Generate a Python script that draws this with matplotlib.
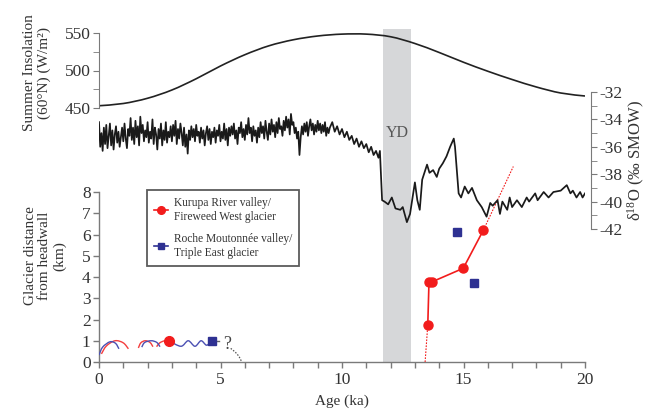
import numpy as np
import matplotlib
matplotlib.use("Agg")
import matplotlib.pyplot as plt
from matplotlib.path import Path
from matplotlib.patches import PathPatch
from matplotlib.lines import Line2D
from matplotlib.ticker import MultipleLocator, FormatStrFormatter, FixedLocator

plt.rcParams['font.family'] = ['Liberation Serif', 'DejaVu Serif']
plt.rcParams['axes.unicode_minus'] = False
plt.rcParams['mathtext.fontset'] = 'custom'
plt.rcParams['mathtext.rm'] = 'Liberation Serif'
plt.rcParams['mathtext.it'] = 'Liberation Serif:italic'

# ---------------- data ----------------
# Summer insolation at 60N (W/m2), every 1 ka
insol_age = [0, 1, 2, 3, 4, 5, 6, 7, 8, 9, 10, 11, 12, 13, 14, 15, 16, 17, 18, 19, 20]
insol_val = [453, 456, 463, 474, 489, 506, 521, 533, 541, 546, 548.5, 548.5, 545, 536,
             524, 511, 499, 488, 478, 470, 466]

# d18O (permil SMOW) - Holocene part sampled every 0.05 ka from 0 ka
holo_step = 0.05
holo_d18o = [
    -34.2, -36.0, -35.0, -36.3, -34.6, -35.8, -34.4, -36.1, -35.2, -34.3,
    -35.9, -34.8, -36.2, -35.1, -34.5, -35.7, -34.9, -36.0, -35.3, -34.6,
    -35.6, -34.3, -35.4, -36.1, -34.7, -35.2, -33.9, -35.5, -34.6, -35.8,
    -34.1, -35.3, -34.5, -35.9, -33.8, -35.0, -34.4, -35.6, -34.8, -35.3,
    -34.2, -35.7, -34.9, -35.4, -34.0, -35.8, -34.6, -35.1, -36.2, -34.7,
    -35.4, -34.3, -35.9, -34.8, -35.5, -34.2, -35.7, -34.9, -35.3, -34.5,
    -35.6, -34.4, -35.2, -34.1, -35.8, -34.7, -35.4, -34.3, -35.0, -35.9,
    -34.6, -36.0, -35.1, -36.5, -34.8, -35.5, -34.5, -35.3, -34.7, -35.6,
    -34.4, -35.2, -34.9, -35.7, -34.6, -35.4, -34.8, -35.9, -35.0, -34.5,
    -35.5, -34.7, -35.8, -34.9, -35.3, -34.6, -35.7, -34.8, -35.2, -34.4,
    -35.6, -34.9, -35.4, -34.3, -35.5, -34.7, -35.9, -34.6, -35.2, -34.5,
    -35.1, -34.3, -35.4, -34.8, -35.8, -34.6, -35.0, -34.2, -35.3, -34.7,
    -35.5, -34.4, -35.1, -33.9, -35.0, -34.6, -35.6, -34.5, -35.2, -34.8,
    -35.7, -34.6, -35.3, -34.2, -35.0, -34.5, -35.4, -34.1, -34.9, -35.5,
    -34.3, -35.1, -34.0, -34.9, -34.4, -35.3, -34.2, -35.0, -33.9, -34.7,
    -34.5, -35.2, -34.1, -34.8, -33.8, -34.6, -34.0, -35.1, -33.6, -34.4,
    -34.2, -35.0, -34.6, -35.4, -34.9, -36.6, -35.3, -34.5, -35.1, -34.3,
    -34.9, -34.2, -35.2, -34.5, -34.0, -34.8, -34.3, -35.1, -34.4, -34.9,
    -34.1, -34.8, -34.3, -35.0, -34.4, -34.9, -34.2, -35.2, -34.6, -35.0,
]
# d18O - late glacial part
lg_age = [9.5, 9.6, 9.7, 9.8, 9.9, 10.0, 10.1, 10.2, 10.3, 10.4, 10.5, 10.6, 10.7, 10.8,
          10.9, 11.0, 11.1, 11.2, 11.3, 11.4, 11.5, 11.56, 11.65, 11.75, 11.9, 12.05,
          12.2, 12.4, 12.5, 12.67, 12.8, 13.0, 13.1, 13.2, 13.3, 13.5, 13.6, 13.75, 13.9,
          14.0, 14.15, 14.3, 14.45, 14.6, 14.65, 14.8, 14.9, 15.05, 15.2, 15.35, 15.55,
          15.75, 15.95, 16.1, 16.2, 16.4, 16.5, 16.6, 16.8, 16.9, 17.0, 17.2, 17.4, 17.6,
          17.7, 17.95, 18.05, 18.3, 18.5, 18.7, 19.0, 19.25, 19.4, 19.5, 19.65, 19.8,
          19.9, 20.0]
lg_d18o = [-34.6, -34.2, -34.9, -34.5, -35.1, -34.7, -35.3, -34.9, -35.5, -35.2, -35.8,
           -35.4, -36.0, -35.6, -36.1, -35.8, -36.4, -36.0, -36.6, -36.3, -36.8, -36.3,
           -39.9, -40.0, -40.2, -39.7, -40.5, -40.6, -40.4, -41.5, -40.9, -38.6, -39.9,
           -40.6, -38.4, -37.3, -37.9, -37.7, -38.2, -37.6, -37.2, -36.7, -36.0, -35.4,
           -36.0, -39.4, -39.7, -38.9, -39.4, -39.0, -39.9, -40.4, -41.1, -40.1, -40.3,
           -39.9, -40.9, -40.0, -40.6, -39.7, -40.4, -39.9, -40.4, -39.7, -40.0, -39.4,
           -39.9, -39.3, -39.7, -39.3, -39.2, -38.8, -39.4, -39.2, -39.7, -39.3, -39.7,
           -39.4]

# Younger Dryas interval (ka)
yd_start, yd_end = 11.7, 12.85

# Kurupa River valley / Fireweed West glacier
kur_age = [13.53, 13.58, 13.72, 14.99, 15.82]
kur_km = [1.74, 3.78, 3.78, 4.41, 6.21]
kur_lo_age = [13.42, 13.53]
kur_lo_km = [0.0, 1.74]
kur_hi_age = [15.82, 17.05]
kur_hi_km = [6.21, 9.2]
kur_late_age = [2.88]
kur_late_km = [1.0]

# Roche Moutonnee valley / Triple East glacier
roc_age = [14.72, 15.45]
roc_km = [6.13, 3.70]
roc_late_age = [4.64]
roc_late_km = [1.0]

# Schematic late Holocene fluctuations
red_arcs = [
    ([0.10, 0.30, 0.66, 1.00, 1.21], [0.38, 0.75, 1.00, 0.90, 0.62]),
    ([1.62, 1.72, 1.90, 2.10, 2.22], [0.66, 0.90, 1.00, 0.92, 0.72]),
    ([2.37, 2.50, 2.70, 2.88], [0.72, 0.90, 1.00, 1.00]),
]
blue_arcs = [
    ([0.00, 0.15, 0.45, 0.68, 0.82], [0.33, 0.70, 0.95, 0.88, 0.62]),
    ([1.76, 1.88, 2.15, 2.38, 2.51], [0.70, 0.92, 1.00, 0.92, 0.72]),
    ([2.88, 3.37, 3.67, 3.95, 4.20, 4.43, 4.64], [1.00, 0.74, 1.00, 0.74, 1.00, 0.79, 1.00]),
]
gray_link_age = [4.64, 4.95]
gray_link_km = [1.0, 1.0]
gray_fall_age = [5.42, 5.62, 5.78, 5.87]
gray_fall_km = [0.64, 0.45, 0.22, 0.0]

RED = '#f21c1c'
BLUE = '#2e3192'
BLUE_L = '#4b50b3'
SPINE = '#7a7a7a'
TXT = '#333333'


def smooth_curve(ax, xs, ys, **kw):
    pts = np.column_stack([xs, ys]).astype(float)
    n = len(pts)
    verts = [pts[0]]
    codes = [Path.MOVETO]
    for i in range(n - 1):
        p0 = pts[i - 1] if i > 0 else pts[i]
        p1 = pts[i]
        p2 = pts[i + 1]
        p3 = pts[i + 2] if i + 2 < n else pts[i + 1]
        verts += [p1 + (p2 - p0) / 6, p2 - (p3 - p1) / 6, p2]
        codes += [Path.CURVE4] * 3
    ax.add_patch(PathPatch(Path(verts, codes), fill=False, **kw))


W, H = 654, 412
fig = plt.figure(figsize=(W / 100, H / 100), dpi=100)

x0, x1 = 99, 585
ybot, ytop = 362, 29
pos = [x0 / W, (H - ybot) / H, (x1 - x0) / W, (ybot - ytop) / H]
hpx = ybot - ytop

# -------- glacier axes --------
ax = fig.add_axes(pos)
km_px = 21.25
ax.set_xlim(0, 20)
ax.set_ylim(0, hpx / km_px)
for s in ['top', 'right']:
    ax.spines[s].set_visible(False)
for s in ['left', 'bottom']:
    ax.spines[s].set_color(SPINE)
    ax.spines[s].set_linewidth(1.0)
ax.spines['left'].set_bounds(0, 8)
ax.spines['bottom'].set_bounds(0, 20)
ax.set_yticks(range(0, 9))
ax.xaxis.set_major_locator(MultipleLocator(5))
ax.xaxis.set_minor_locator(MultipleLocator(1))
ax.tick_params(axis='both', which='both', direction='out', color=SPINE, labelcolor=TXT,
               labelsize=12.5, length=4, width=1.0)
ax.tick_params(axis='x', pad=3)
ax.tick_params(axis='y', pad=2)
ax.patch.set_visible(False)

ax.axvspan(yd_start, yd_end, color='#d6d7d9', lw=0, zorder=0)
ax.text((yd_start + yd_end) / 2, (ybot - 133) / km_px, 'YD', ha='center', va='center',
        fontsize=11.5, color='#555555')

for xs, ys in red_arcs:
    smooth_curve(ax, xs, ys, edgecolor=RED, lw=1.0, alpha=0.85, zorder=3)
for xs, ys in blue_arcs:
    smooth_curve(ax, xs, ys, edgecolor=BLUE_L, lw=1.0, zorder=3)
ax.plot(gray_link_age, gray_link_km, color='#666666', lw=1.0, zorder=3)
smooth_curve(ax, gray_fall_age, gray_fall_km, edgecolor='#555555', lw=0.9,
             linestyle=(0, (1.2, 1.2)), zorder=3)
ax.text(5.27, 0.82, '?', ha='center', va='center', fontsize=13, color='#444444', zorder=4)

ax.plot(kur_lo_age, kur_lo_km, color=RED, lw=0.8, linestyle=(0, (1.5, 1.2)), zorder=4)
ax.plot(kur_hi_age, kur_hi_km, color=RED, lw=0.8, linestyle=(0, (1.5, 1.2)), zorder=4)
ax.plot(kur_age, kur_km, color=RED, lw=1.2, marker='o', markersize=6.5, zorder=5)
ax.plot(kur_late_age, kur_late_km, color=RED, lw=0, marker='o', markersize=7, zorder=5)
ax.plot(roc_age, roc_km, color=BLUE, lw=0, marker='s', markersize=5.5, zorder=5)
ax.plot(roc_late_age, roc_late_km, color=BLUE, lw=0, marker='s', markersize=5.5, zorder=5)

ax.set_xlabel('Age (ka)', fontsize=11, color=TXT, labelpad=5)

# -------- insolation axes --------
ax2 = fig.add_axes(pos, sharex=ax)
ins_px = 0.75
ins_bot = 450 - (ybot - 108) / ins_px
ax2.set_ylim(ins_bot, ins_bot + hpx / ins_px)
ax2.patch.set_visible(False)
for s in ['top', 'right', 'bottom']:
    ax2.spines[s].set_visible(False)
ax2.spines['left'].set_color(SPINE)
ax2.spines['left'].set_bounds(450, 550)
ax2.yaxis.set_major_locator(FixedLocator([450, 500, 550]))
ax2.yaxis.set_minor_locator(FixedLocator([475, 525]))
ax2.tick_params(axis='y', which='both', direction='out', color=SPINE, labelcolor=TXT,
                labelsize=12.5, length=4, pad=2)
ax2.tick_params(axis='x', which='both', bottom=False, labelbottom=False)
smooth_curve(ax2, insol_age, insol_val, edgecolor='#222222', lw=1.2)

# -------- d18O axes --------
ax3 = fig.add_axes(pos, sharex=ax)
d_px = 13.7
d_bot = -42 - (ybot - 229) / d_px
ax3.set_ylim(d_bot, d_bot + hpx / d_px)
ax3.patch.set_visible(False)
for s in ['top', 'left', 'bottom']:
    ax3.spines[s].set_visible(False)
ax3.spines['right'].set_color(SPINE)
ax3.spines['right'].set_bounds(-42, -32)
ax3.spines['right'].set_position(('outward', 4))
ax3.yaxis.tick_right()
ax3.yaxis.set_major_locator(FixedLocator(list(range(-42, -31, 2))))
ax3.yaxis.set_minor_locator(FixedLocator(list(range(-41, -32, 2))))
ax3.yaxis.set_major_formatter(FormatStrFormatter('%d'))
ax3.tick_params(axis='y', which='both', direction='out', color=SPINE, labelcolor=TXT,
                labelsize=12.5, length=4, pad=2, left=False, right=True)
ax3.tick_params(axis='x', which='both', bottom=False, labelbottom=False)
holo_age = np.arange(len(holo_d18o)) * holo_step
ax3.plot(list(holo_age) + lg_age, holo_d18o + lg_d18o, color='#1a1a1a', lw=1.25)

# -------- labels --------
fig.text(37 / W, 1 - 73 / H, 'Summer Insolation\n(60°N) (W/m²)', rotation=90,
         ha='center', va='center', fontsize=11, color=TXT, linespacing=1.15)
fig.text(45 / W, 1 - 256 / H, 'Glacier distance\nfrom headwall\n(km)', rotation=90,
         ha='center', va='center', fontsize=11, color=TXT, linespacing=1.15)
fig.text(636 / W, 1 - 160 / H, r'δ$^{18}$O (‰ SMOW)', rotation=90,
         ha='center', va='center', fontsize=12, color=TXT)

handles = [
    Line2D([], [], color=RED, lw=1.2, marker='o', markersize=5.5),
    Line2D([], [], color=BLUE, lw=1.2, marker='s', markersize=5),
]
labels = ['Kurupa River valley/\nFireweed West glacier',
          'Roche Moutonnée valley/\nTriple East glacier']
leg = fig.legend(handles, labels, loc='upper left', bbox_to_anchor=(147 / W, 1 - 190 / H),
                 frameon=True, fancybox=False, edgecolor='#333333', fontsize=8.3,
                 handlelength=1.2, handletextpad=0.5, borderpad=0.6, labelspacing=0.9,
                 borderaxespad=0)
leg.get_frame().set_linewidth(1.3)
for t in leg.get_texts():
    t.set_color(TXT)

fig.savefig('out.png', dpi=100)
